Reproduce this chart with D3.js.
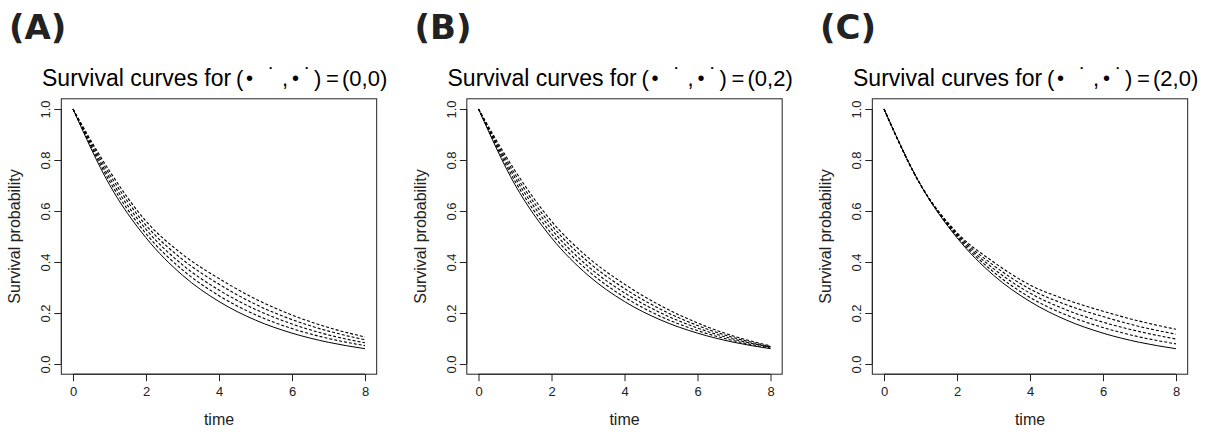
<!DOCTYPE html>
<html lang="en">
<head>
  <meta charset="UTF-8">
  <title>Survival curves</title>
  <style>
    body { margin: 0; background: #fff; }
    svg { display: block; }
    .tick text { font-family: "Liberation Sans", Arial, sans-serif; }
  </style>
  <script src="https://d3js.org/d3.v7.min.js"></script>
</head>
<body>
<div id="chart"></div>
<script>
  // time grid the curves were read at
  var times = [0, 1, 2, 3, 4, 5, 6, 7, 8];

  // solid reference curve (same in all three panels)
  var solidCurve = [1, 0.703, 0.495, 0.348, 0.245, 0.172, 0.121, 0.085, 0.060];

  // dashed curves, panel A: (0,0)
  var dashedA = [
    [1, 0.717, 0.511, 0.369, 0.268, 0.193, 0.139, 0.100, 0.072],
    [1, 0.730, 0.528, 0.389, 0.290, 0.214, 0.157, 0.114, 0.083],
    [1, 0.744, 0.544, 0.410, 0.313, 0.234, 0.174, 0.129, 0.095],
    [1, 0.757, 0.560, 0.430, 0.335, 0.255, 0.192, 0.143, 0.106]
  ];
  // panel B: (0,2)
  var dashedB = [
    [1, 0.717, 0.511, 0.366, 0.262, 0.186, 0.131, 0.091, 0.063],
    [1, 0.731, 0.528, 0.383, 0.279, 0.200, 0.141, 0.097, 0.066],
    [1, 0.744, 0.544, 0.401, 0.296, 0.214, 0.151, 0.103, 0.068],
    [1, 0.758, 0.560, 0.418, 0.313, 0.228, 0.161, 0.109, 0.071]
  ];
  // panel C: (2,0)
  var dashedC = [
    [1, 0.703, 0.500, 0.361, 0.261, 0.192, 0.143, 0.106, 0.079],
    [1, 0.703, 0.505, 0.374, 0.278, 0.212, 0.164, 0.127, 0.098],
    [1, 0.703, 0.510, 0.387, 0.294, 0.232, 0.186, 0.147, 0.117],
    [1, 0.703, 0.515, 0.400, 0.310, 0.252, 0.207, 0.168, 0.136]
  ];

  var panelLetters = ["(A)", "(B)", "(C)"];
  var panelValues = ["(0,0)", "(0,2)", "(2,0)"];
  var panelDashed = [dashedA, dashedB, dashedC];

  var xTicks = [0, 2, 4, 6, 8];
  var yTicks = [0, 0.2, 0.4, 0.6, 0.8, 1.0];
  var yTickLabels = ["0.0", "0.2", "0.4", "0.6", "0.8", "1.0"];

  var width = 1209, height = 433;
  var panelStep = 405.5;
  var sans = "Liberation Sans, Arial, sans-serif";

  var svg = d3.select("#chart").append("svg")
    .attr("width", width)
    .attr("height", height);

  // R style scales: data range padded by 4% to make the box
  var x = d3.scaleLinear().domain([0, 8]).range([73, 365]);
  var y = d3.scaleLinear().domain([0, 1]).range([364, 109]);
  var boxL = x(-0.32), boxR = x(8.32), boxT = y(1.04), boxB = y(-0.04);

  var line = d3.line()
    .x(function(d) { return x(d[0]); })
    .y(function(d) { return y(d[1]); })
    .curve(d3.curveMonotoneX);

  function pairs(vals) {
    return times.map(function(t, i) { return [t, vals[i]]; });
  }

  panelLetters.forEach(function(letter, p) {
    var g = svg.append("g").attr("transform", "translate(" + (p * panelStep) + ",0)");

    // big panel letter
    g.append("text")
      .attr("x", 9)
      .attr("y", 39)
      .attr("font-family", "DejaVu Sans, sans-serif")
      .attr("font-weight", "bold")
      .attr("font-size", 34)
      .attr("fill", "#222")
      .text(letter);

    // title: plain part, then the plotmath-like part
    var title = g.append("text")
      .attr("y", 86)
      .attr("font-family", sans)
      .attr("fill", "#000");
    title.append("tspan").attr("x", 42).attr("font-size", 23).text("Survival curves for");
    title.append("tspan").attr("x", 236).attr("font-size", 22).text("(");
    title.append("tspan").attr("x", 246).attr("font-size", 20).attr("dy", -1).text("\u2022");
    title.append("tspan").attr("x", 268).attr("font-size", 22).attr("dy", -2).text("\u02D9");
    title.append("tspan").attr("x", 282).attr("font-size", 22).attr("dy", 3).text(",");
    title.append("tspan").attr("x", 292).attr("font-size", 20).attr("dy", -1).text("\u2022");
    title.append("tspan").attr("x", 304).attr("font-size", 22).attr("dy", -2).text("\u02D9");
    title.append("tspan").attr("x", 314).attr("font-size", 22).attr("dy", 3).text(")");
    title.append("tspan").attr("x", 326).attr("font-size", 22).text("=");
    title.append("tspan").attr("x", 342).attr("font-size", 22).text(panelValues[p]);

    // curves
    panelDashed[p].forEach(function(vals) {
      g.append("path")
        .datum(pairs(vals))
        .attr("d", line)
        .attr("fill", "none")
        .attr("stroke", "#000")
        .attr("stroke-width", 1.1)
        .attr("stroke-dasharray", "3,2");
    });
    g.append("path")
      .datum(pairs(solidCurve))
      .attr("d", line)
      .attr("fill", "none")
      .attr("stroke", "#000")
      .attr("stroke-width", 1);

    // box
    g.append("rect")
      .attr("x", boxL)
      .attr("y", boxT)
      .attr("width", boxR - boxL)
      .attr("height", boxB - boxT)
      .attr("fill", "none")
      .attr("stroke", "#222")
      .attr("stroke-width", 1);

    // x axis
    var xAxis = g.append("g")
      .attr("transform", "translate(0," + boxB + ")")
      .call(d3.axisBottom(x).tickValues(xTicks).tickSize(7).tickPadding(4)
        .tickFormat(d3.format("d")));
    xAxis.select(".domain").attr("d", "M" + x(0) + ",0H" + x(8)).attr("stroke", "#222");
    xAxis.selectAll(".tick line").attr("stroke", "#222");
    xAxis.selectAll(".tick text").attr("font-size", 13).attr("fill", "#222").attr("dy", "0.85em");

    // y axis
    var yAxis = g.append("g")
      .attr("transform", "translate(" + boxL + ",0)")
      .call(d3.axisLeft(y).tickValues(yTicks).tickSize(7)
        .tickFormat(function(d, i) { return yTickLabels[i]; }));
    yAxis.select(".domain").attr("d", "M0," + y(0) + "V" + y(1)).attr("stroke", "#222");
    yAxis.selectAll(".tick line").attr("stroke", "#222");
    yAxis.selectAll(".tick text")
      .attr("font-size", 13)
      .attr("fill", "#222")
      .attr("x", null)
      .attr("dy", null)
      .attr("text-anchor", "middle")
      .attr("transform", "translate(" + (50 - boxL) + ",0) rotate(-90)");

    // axis titles
    g.append("text")
      .attr("x", (boxL + boxR) / 2)
      .attr("y", 425)
      .attr("text-anchor", "middle")
      .attr("font-family", sans)
      .attr("font-size", 16)
      .attr("fill", "#222")
      .text("time");

    g.append("text")
      .attr("transform", "translate(20," + ((boxT + boxB) / 2) + ") rotate(-90)")
      .attr("text-anchor", "middle")
      .attr("font-family", sans)
      .attr("font-size", 16)
      .attr("fill", "#222")
      .text("Survival probability");
  });
</script>
</body>
</html>
